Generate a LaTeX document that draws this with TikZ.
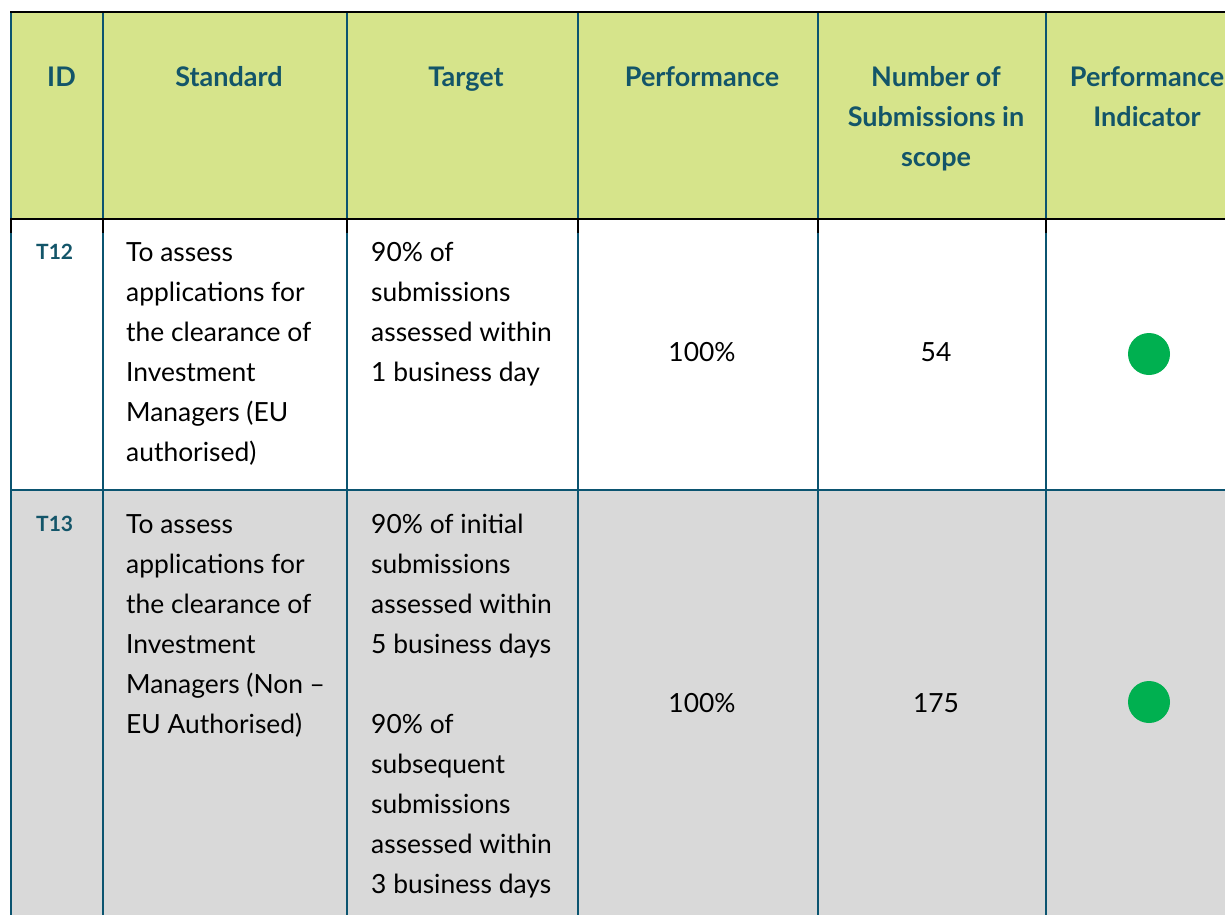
\documentclass[tikz,border=0pt]{standalone}
\usepackage{fontspec}
\setmainfont{Lato}
\definecolor{hdrgreen}{HTML}{D6E48B}
\definecolor{hdrtext}{HTML}{135569}
\definecolor{rule}{HTML}{0B5470}
\definecolor{rowgray}{HTML}{D9D9D9}
\definecolor{okgreen}{HTML}{00B050}
\newcommand{\llines}[1]{\begin{tabular}[t]{@{}l@{}}#1\end{tabular}}
\newcommand{\clines}[1]{\begin{tabular}[t]{@{}c@{}}#1\end{tabular}}
\begin{document}
\begin{tikzpicture}[x=1pt,y=-1pt,
  hdr/.style={font=\fontsize{27}{40}\selectfont\bfseries, text=hdrtext, inner sep=0pt, anchor=base},
  idtxt/.style={font=\fontsize{21}{30}\selectfont\bfseries, text=hdrtext, inner sep=0pt, anchor=base west},
  body/.style={font=\fontsize{26.4}{40}\selectfont, text=black, inner sep=0pt, anchor=base west},
  val/.style={font=\fontsize{26.4}{40}\selectfont, text=black, inner sep=0pt, anchor=base},
  vrule/.style={draw=rule, line width=2pt},
  dot/.style={circle, fill=okgreen, minimum size=42pt, inner sep=0pt}]
\useasboundingbox (0,0) rectangle (1225,915);
\fill[white] (0,0) rectangle (1225,915);
% fills
\fill[hdrgreen] (11,12) rectangle (1225,219);
\fill[rowgray] (11,490) rectangle (1225,915);
% vertical rules
\foreach \x in {11,103,347,578,818,1046}{
  \draw[vrule] (\x,12) -- (\x,915);
  \draw[black, line width=2pt] (\x,219) -- (\x,233);
}
% horizontal rules
\draw[black, line width=1.5pt] (10,12) -- (1225,12);
\draw[black, line width=2pt] (10,219) -- (1225,219);
\draw[rule, line width=1.5pt] (10,490) -- (1225,490);
% header
\node[hdr] (hid) at (61.5,87) {ID};
\node[hdr] (hstd) at (229,87) {Standard};
\node[hdr] (htgt) at (466,87) {Target};
\node[hdr] (hperf) at (702,87) {Performance};
\node[hdr] (hnum) at (936,87) {\clines{Number of\\Submissions in\\scope}};
\node[hdr] (hind) at (1147,87) {\clines{Performance\\Indicator}};
% row 1
\node[idtxt] (id1) at (36,259) {T12};
\node[body] (std1) at (126,261) {\llines{To assess\\applications for\\the clearance of\\Investment\\Managers (EU\\authorised)}};
\node[body] (tgt1) at (371,261) {\llines{90\% of\\submissions\\assessed within\\1 business day}};
\node[val] (perf1) at (702,361) {100\%};
\node[val] (num1) at (936,361) {54};
\node[dot] (ind1) at (1149,354) {};
% row 2
\node[idtxt] (id2) at (36,531) {T13};
\node[body] (std2) at (126,533) {\llines{To assess\\applications for\\the clearance of\\Investment\\Managers (Non –\\EU Authorised)}};
\node[body] (tgt2) at (371,533) {\llines{90\% of initial\\submissions\\assessed within\\5 business days\\ \\90\% of\\subsequent\\submissions\\assessed within\\3 business days}};
\node[val] (perf2) at (702,712) {100\%};
\node[val] (num2) at (936,712) {175};
\node[dot] (ind2) at (1149,702) {};
\end{tikzpicture}
\end{document}
